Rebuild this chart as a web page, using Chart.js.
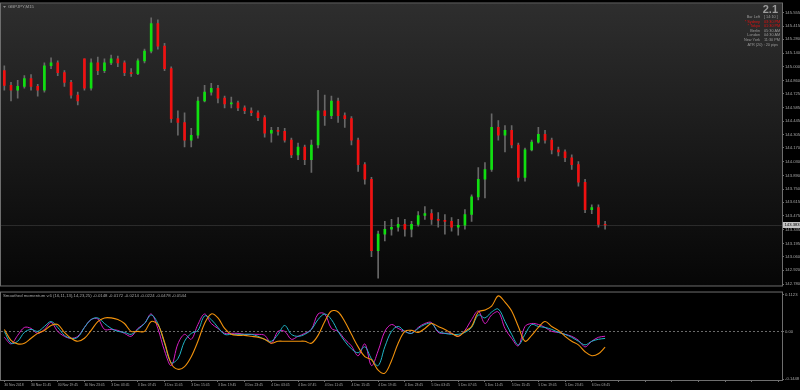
<!DOCTYPE html>
<html>
<head>
<meta charset="utf-8">
<script src="https://cdn.jsdelivr.net/npm/chart.js@4.4.1/dist/chart.umd.min.js"></script>
<style>
	html, body { margin: 0; padding: 0; background: #000; }
	#wrap { position: relative; width: 800px; height: 390px; background: #000; overflow: hidden; }
	#chart-price { position: absolute; left: 0; top: 0; }
	#chart-osc { position: absolute; left: 0; top: 289px; }
</style>
</head>
<body>
<div id="wrap">
	<canvas id="chart-price" width="800" height="289"></canvas>
	<canvas id="chart-osc" width="800" height="101"></canvas>
</div>
<script>
// hourly candles, 30 Nov 11:45 .. 6 Dec 05:45
const opens = [
	144.96, 144.81, 144.76, 144.80, 144.88, 144.80, 144.76, 145.01, 145.04, 144.94,
	144.84, 144.71, 145.08, 144.78, 145.04, 144.96, 145.04, 145.08, 145.04, 144.94,
	144.93, 145.06, 145.16, 145.44, 145.21, 144.98, 144.47, 144.43, 144.25, 144.30,
	144.65, 144.74, 144.78, 144.68, 144.62, 144.63, 144.58, 144.55, 144.53, 144.48,
	144.32, 144.35, 144.34, 144.25, 144.10, 144.18, 144.05, 144.20, 144.55, 144.50,
	144.65, 144.50, 144.47, 144.25, 144.00, 143.85, 143.12, 143.29, 143.34, 143.36,
	143.39, 143.34, 143.39, 143.48, 143.50, 143.44, 143.43, 143.42, 143.36, 143.38,
	143.49, 143.67, 143.85, 143.95, 144.38, 144.30, 144.35, 144.20, 143.87, 144.15,
	144.23, 144.31, 144.25, 144.15, 144.13, 144.07, 144.00, 143.82, 143.54, 143.56,
	143.39
];
const highs = [
	145.01, 144.84, 144.86, 144.91, 144.92, 144.82, 145.04, 145.09, 145.06, 144.96,
	144.86, 144.74, 145.08, 145.08, 145.10, 145.08, 145.12, 145.11, 145.06, 144.98,
	145.08, 145.18, 145.50, 145.48, 145.24, 145.00, 144.55, 144.53, 144.37, 144.69,
	144.81, 144.83, 144.81, 144.70, 144.69, 144.65, 144.60, 144.58, 144.55, 144.50,
	144.38, 144.38, 144.37, 144.27, 144.22, 144.20, 144.25, 144.76, 144.71, 144.70,
	144.68, 144.53, 144.49, 144.27, 144.02, 143.87, 143.32, 143.42, 143.44, 143.46,
	143.44, 143.42, 143.52, 143.57, 143.54, 143.51, 143.49, 143.46, 143.44, 143.54,
	143.69, 143.97, 144.02, 144.52, 144.45, 144.40, 144.40, 144.22, 144.17, 144.25,
	144.38, 144.35, 144.27, 144.18, 144.15, 144.10, 144.03, 143.85, 143.59, 143.59,
	143.42
];
const lows = [
	144.76, 144.65, 144.68, 144.78, 144.76, 144.70, 144.74, 144.98, 144.91, 144.80,
	144.68, 144.61, 144.76, 144.76, 144.92, 144.94, 145.02, 145.00, 144.91, 144.90,
	144.92, 145.04, 145.14, 145.18, 144.96, 144.43, 144.30, 144.18, 144.18, 144.27,
	144.64, 144.71, 144.63, 144.58, 144.58, 144.55, 144.52, 144.50, 144.45, 144.28,
	144.23, 144.30, 144.23, 144.07, 144.05, 144.00, 143.92, 144.17, 144.40, 144.47,
	144.43, 144.38, 144.20, 143.93, 143.80, 143.06, 142.84, 143.22, 143.28, 143.32,
	143.27, 143.26, 143.37, 143.44, 143.39, 143.36, 143.29, 143.32, 143.28, 143.34,
	143.42, 143.64, 143.66, 143.93, 144.25, 144.13, 144.17, 143.83, 143.83, 144.14,
	144.22, 144.22, 144.11, 144.09, 144.03, 143.95, 143.78, 143.51, 143.50, 143.36,
	143.34
];
const closes = [
	144.81, 144.76, 144.80, 144.88, 144.80, 144.76, 145.01, 145.04, 144.94, 144.84,
	144.71, 144.65, 144.78, 145.04, 144.96, 145.04, 145.08, 145.04, 144.94, 144.93,
	145.06, 145.16, 145.44, 145.21, 144.98, 144.47, 144.43, 144.25, 144.30, 144.65,
	144.74, 144.78, 144.68, 144.62, 144.63, 144.58, 144.55, 144.53, 144.48, 144.32,
	144.35, 144.34, 144.25, 144.10, 144.18, 144.05, 144.20, 144.55, 144.50, 144.65,
	144.50, 144.47, 144.25, 144.00, 143.85, 143.12, 143.29, 143.34, 143.36, 143.39,
	143.34, 143.39, 143.48, 143.50, 143.44, 143.43, 143.42, 143.36, 143.38, 143.49,
	143.67, 143.85, 143.95, 144.38, 144.30, 144.35, 144.20, 143.87, 144.15, 144.23,
	144.31, 144.25, 144.15, 144.13, 144.07, 144.00, 143.82, 143.54, 143.56, 143.39,
	143.383
];

// smoothed momentum lines
const momFast = [
	-0.018, -0.038, -0.012, 0.012, 0.009, -0.006, 0.006, 0.027, 0, -0.015,
	-0.021, -0.015, 0.012, 0.036, 0.038, 0.006, 0.006, 0.003, -0.006, -0.015,
	0.009, 0.024, 0.053, 0.009, -0.059, -0.104, -0.038, -0.009, -0.024, 0.021,
	0.053, 0.024, 0.009, -0.006, -0.006, -0.006, -0.009, -0.009, -0.009, -0.012,
	-0.036, 0, 0, -0.024, -0.015, -0.006, 0.006, 0.053, 0.053, 0.009,
	0, -0.024, -0.044, -0.074, -0.038, -0.104, -0.059, 0, 0.021, 0.009,
	0, -0.006, 0.012, 0.024, 0.027, -0.003, -0.006, -0.006, -0.015, 0.003,
	0.036, 0.062, 0.024, 0.050, 0.059, 0.009, -0.021, -0.044, 0.015, 0.024,
	0.021, 0.012, 0, -0.003, -0.009, -0.015, -0.027, -0.047, -0.030, -0.018,
	-0.0148
];
const momMid = [
	0, -0.036, -0.030, -0.003, 0.006, 0, 0.015, 0.030, 0.012, -0.012,
	-0.021, -0.018, 0.012, 0.036, 0.041, 0.024, 0.009, 0, -0.003, -0.009,
	0.006, 0.024, 0.050, 0.024, -0.036, -0.095, -0.083, -0.030, -0.006, 0.003,
	0.047, 0.036, 0.012, -0.009, -0.009, -0.009, -0.009, -0.009, -0.015, -0.024,
	-0.030, -0.009, 0.018, -0.009, -0.015, -0.009, 0.006, 0.036, 0.053, 0.036,
	0, -0.030, -0.053, -0.065, -0.047, -0.083, -0.104, -0.047, 0, 0.015,
	0, -0.006, 0.009, 0.021, 0.024, 0, -0.006, -0.009, -0.009, -0.003,
	0.012, 0.050, 0.041, 0.059, 0.068, 0.030, -0.009, -0.041, -0.009, 0.021,
	0.015, 0.012, 0.006, -0.003, -0.009, -0.018, -0.030, -0.041, -0.030, -0.024,
	-0.0214
];
const momSlow = [
	0.006, -0.027, -0.038, -0.036, -0.021, -0.006, 0.003, 0.018, 0.021, -0.003,
	-0.021, -0.030, -0.021, 0.003, 0.030, 0.041, 0.041, 0.036, 0.024, 0,
	0, 0, 0.030, 0.021, -0.033, -0.098, -0.115, -0.107, -0.077, -0.030,
	0.024, 0.053, 0.041, 0.009, -0.009, -0.012, -0.012, -0.015, -0.018, -0.024,
	-0.036, -0.030, -0.030, -0.030, -0.030, -0.030, -0.036, -0.012, 0.030, 0.062,
	0.059, 0.030, -0.009, -0.047, -0.077, -0.086, -0.118, -0.127, -0.089, -0.036,
	0, 0.003, -0.003, 0.009, 0.024, 0.015, 0.006, -0.006, -0.015, 0,
	0.015, 0.059, 0.065, 0.077, 0.108, 0.089, 0.062, 0.015, -0.030, -0.012,
	0.012, 0.030, 0.015, 0.003, -0.015, -0.030, -0.041, -0.062, -0.074, -0.068,
	-0.0478
];

const xTickLabels = [
	'30 Nov 2018', '30 Nov 15:45', '30 Nov 19:45', '30 Nov 23:45', '3 Dec 03:45', '3 Dec 07:45',
	'3 Dec 11:45', '3 Dec 15:45', '3 Dec 19:45', '3 Dec 23:45', '4 Dec 03:45', '4 Dec 07:45',
	'4 Dec 11:45', '4 Dec 15:45', '4 Dec 19:45', '4 Dec 23:45', '5 Dec 03:45', '5 Dec 07:45',
	'5 Dec 11:45', '5 Dec 15:45', '5 Dec 19:45', '5 Dec 23:45', '6 Dec 03:45'
];
const priceTicks = [
	145.555, 145.415, 145.280, 145.140, 145.000, 144.860, 144.725, 144.585, 144.445, 144.305,
	144.170, 144.030, 143.890, 143.750, 143.615, 143.475, 143.335, 143.195, 143.060, 142.920, 142.780
];
const oscTicks = [0.1123, 0, -0.1448];
const oscTickLabels = ['0.1123', '0.00', '-0.1448'];

const symbolTitle = 'GBPJPY,M15';
const oscTitle = 'Smoothed momentum v.6 (16,11,13),14,23,25) -0.0148 -0.0172 -0.0214 -0.0224 -0.0478 -0.0544';
const infoBig = '2.1';
const infoRows = [
	['Bar Left', '[ 14:10 ]', false],
	['* Sydney', '03:30 PM', true],
	['* Tokyo', '01:30 PM', true],
	['Berlin', '05:30 AM', false],
	['London', '04:30 AM', false],
	['New York', '11:30 PM', false],
];
const infoAtr = 'ATR (20) : 20 pips';

const SLOTS = 117; // visible bar slots incl. empty space on the right
const BULL = '#10e010';
const BEAR = '#f01010';
const FONT = "'Liberation Sans', Arial, sans-serif";
const TXT = '#a6a6a6';

const labels = Array.from({length: SLOTS}, (_, i) => (i % 4 === 0 && xTickLabels[i / 4]) ? xTickLabels[i / 4] : '');

const panelPlugin = {
	id: 'panel',
	beforeDraw(chart, args, opts) {
		const {ctx, chartArea: a, width, height} = chart;
		ctx.save();
		ctx.fillStyle = '#000';
		ctx.fillRect(0, 0, width, height);
		if (opts.gradient) {
			const g = ctx.createLinearGradient(0, a.top, 0, a.bottom);
			g.addColorStop(0, '#2e2e2e');
			g.addColorStop(1, '#060606');
			ctx.fillStyle = g;
			ctx.fillRect(a.left, a.top, a.right - a.left, a.bottom - a.top);
		}
		ctx.restore();
	},
	beforeDatasetsDraw(chart, args, opts) {
		const {ctx, chartArea: a} = chart;
		ctx.save();
		ctx.lineWidth = 1;
		if (opts.bid) {
			const y = Math.round(chart.scales.y.getPixelForValue(closes[closes.length - 1])) + 0.5;
			ctx.strokeStyle = 'rgba(110,110,110,0.3)';
			ctx.beginPath();
			ctx.moveTo(a.left, y);
			ctx.lineTo(a.right, y);
			ctx.stroke();
		}
		if (opts.zero) {
			const y = Math.round(chart.scales.y.getPixelForValue(0)) + 0.5;
			ctx.strokeStyle = '#6a6a6a';
			ctx.setLineDash([2, 2]);
			ctx.beginPath();
			ctx.moveTo(a.left, y);
			ctx.lineTo(a.right, y);
			ctx.stroke();
		}
		ctx.restore();
	},
	afterDraw(chart, args, opts) {
		const {ctx, chartArea: a} = chart;
		ctx.save();
		ctx.strokeStyle = '#6e6e6e';
		ctx.lineWidth = 1;
		ctx.strokeRect(a.left - 0.5, a.top - 0.5, a.right - a.left + 1, a.bottom - a.top + 1);
		ctx.textBaseline = 'middle';
		if (opts.title) {
			ctx.fillStyle = TXT;
			ctx.font = '4.3px ' + FONT;
			ctx.textAlign = 'left';
			ctx.fillText(opts.title, a.left + (opts.titleX || 2), a.top + 3.5);
		}
		if (opts.info) {
			// small marker in front of the symbol name
			ctx.fillStyle = '#8a8a8a';
			ctx.beginPath();
			ctx.moveTo(a.left + 2, a.top + 2.5);
			ctx.lineTo(a.left + 5, a.top + 2.5);
			ctx.lineTo(a.left + 3.5, a.top + 4.5);
			ctx.closePath();
			ctx.fill();

			const rx = a.right - 4;
			ctx.textAlign = 'right';
			ctx.fillStyle = '#9c9c9c';
			ctx.font = 'bold 11px ' + FONT;
			ctx.fillText(infoBig, rx, a.top + 6);
			ctx.font = '3.8px ' + FONT;
			infoRows.forEach((r, i) => {
				const y = a.top + 13.5 + i * 4.6;
				ctx.fillStyle = r[2] ? '#e01010' : '#9a9a9a';
				ctx.textAlign = 'right';
				ctx.fillText(r[0], rx - 18, y);
				ctx.textAlign = 'left';
				ctx.fillText(r[1], rx - 14, y);
			});
			ctx.textAlign = 'right';
			ctx.fillStyle = '#9a9a9a';
			ctx.fillText(infoAtr, rx, a.top + 13.5 + infoRows.length * 4.6);

			// bid price box on the axis
			const last = closes[closes.length - 1];
			const y = chart.scales.y.getPixelForValue(last);
			ctx.fillStyle = '#c4c4c4';
			ctx.fillRect(a.right + 1, y - 3, 17, 6);
			ctx.fillStyle = '#000';
			ctx.textAlign = 'left';
			ctx.font = '4.2px ' + FONT;
			ctx.fillText(last.toFixed(3), a.right + 2.5, y + 0.2);
		}
		ctx.restore();
	}
};

const priceConfig = {
	type: 'bar',
	data: {
		labels: labels,
		datasets: [
			{
				label: 'wick',
				data: lows.map((l, i) => [l, highs[i]]),
				backgroundColor: '#686868',
				barThickness: 1,
				grouped: false,
				order: 2
			},
			{
				label: 'body',
				data: opens.map((o, i) => [o, closes[i]]),
				backgroundColor: opens.map((o, i) => closes[i] >= o ? BULL : BEAR),
				barThickness: 2,
				grouped: false,
				order: 1
			}
		]
	},
	options: {
		responsive: false,
		animation: false,
		layout: { padding: { left: 1, top: 2, right: 0, bottom: 1 } },
		plugins: {
			legend: { display: false },
			tooltip: { enabled: false },
			panel: { gradient: true, bid: true, info: true, title: symbolTitle, titleX: 7 }
		},
		scales: {
			x: {
				display: false,
				offset: true,
				grid: { display: false }
			},
			y: {
				position: 'right',
				min: 142.765,
				max: 145.646,
				afterBuildTicks: s => { s.ticks = priceTicks.map(v => ({ value: v })); },
				afterFit: s => { s.width = 18; },
				ticks: {
					autoSkip: false,
					padding: 1,
					color: TXT,
					font: { family: FONT, size: 4.2 },
					callback: v => v.toFixed(3)
				},
				grid: { drawOnChartArea: false, tickLength: 2, color: '#6e6e6e' },
				border: { color: '#6e6e6e' }
			}
		}
	},
	plugins: [panelPlugin]
};

const oscConfig = {
	type: 'line',
	data: {
		labels: labels,
		datasets: [
			{ label: 'slow', data: momSlow, borderColor: '#f2920c', borderWidth: 1.1, pointRadius: 0, tension: 0.35, fill: false },
			{ label: 'mid', data: momMid, borderColor: '#20b6c8', borderWidth: 1, pointRadius: 0, tension: 0.35, fill: false },
			{ label: 'fast', data: momFast, borderColor: '#d81ec4', borderWidth: 1, pointRadius: 0, tension: 0.35, fill: false }
		]
	},
	options: {
		responsive: false,
		animation: false,
		layout: { padding: { left: 1, top: 1, right: 0, bottom: 0 } },
		plugins: {
			legend: { display: false },
			tooltip: { enabled: false },
			panel: { zero: true, title: oscTitle, titleX: 2 }
		},
		scales: {
			x: {
				offset: true,
				afterBuildTicks: s => { s.ticks = s.ticks.filter(t => t.value % 4 === 0); },
				afterFit: s => { s.height = 10; },
				ticks: {
					autoSkip: false,
					maxRotation: 0,
					align: 'start',
					padding: 1,
					color: TXT,
					font: { family: FONT, size: 3.4 },
					callback: function(v) { return labels[v]; }
				},
				grid: { drawOnChartArea: false, tickLength: 2, color: '#6e6e6e' },
				border: { color: '#6e6e6e' }
			},
			y: {
				position: 'right',
				min: -0.1478,
				max: 0.1182,
				afterBuildTicks: s => { s.ticks = oscTicks.map(v => ({ value: v })); },
				afterFit: s => { s.width = 18; },
				ticks: {
					autoSkip: false,
					padding: 1,
					color: TXT,
					font: { family: FONT, size: 4.2 },
					callback: (v, i) => oscTickLabels[i]
				},
				grid: { drawOnChartArea: false, tickLength: 2, color: '#6e6e6e' },
				border: { color: '#6e6e6e' }
			}
		}
	},
	plugins: [panelPlugin]
};

document.addEventListener('DOMContentLoaded', () => {
	new Chart(document.getElementById('chart-price'), priceConfig);
	new Chart(document.getElementById('chart-osc'), oscConfig);
});
</script>
</body>
</html>
